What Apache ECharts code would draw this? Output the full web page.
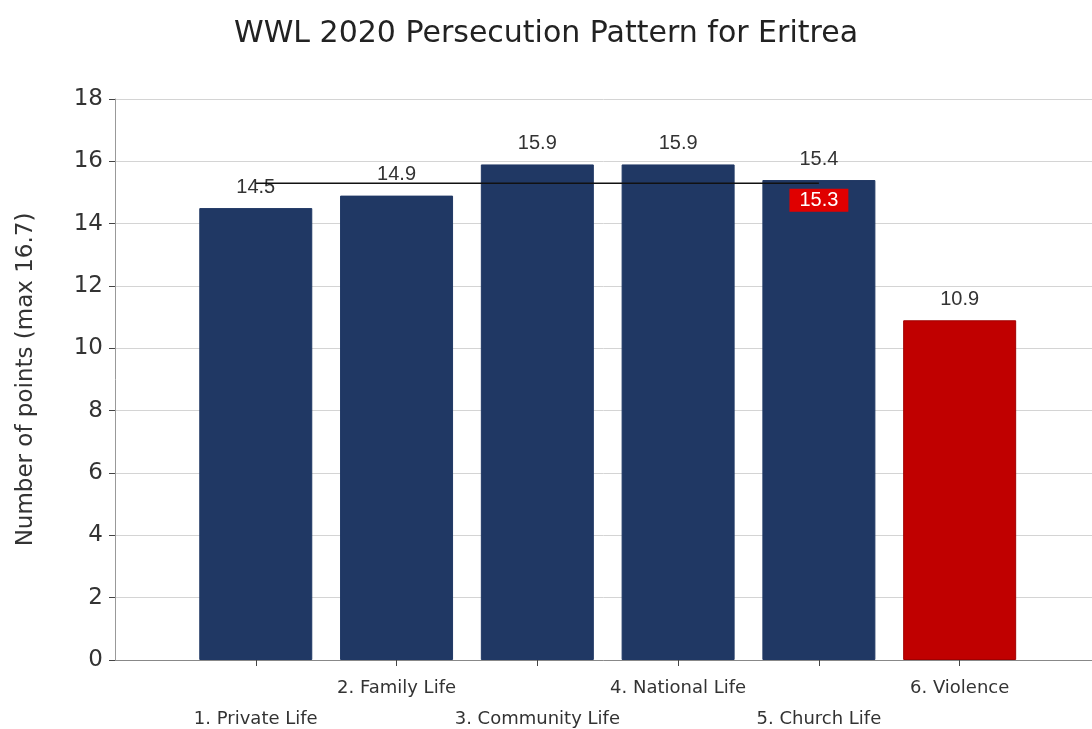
<!DOCTYPE html>
<html>
<head>
<meta charset="utf-8">
<script src="https://cdn.jsdelivr.net/npm/echarts@6/dist/echarts.min.js"></script>
<style>html,body{margin:0;padding:0;background:#fff;}#c{width:1092px;height:729px;}</style>
</head>
<body>
<div id="c"></div>
<script>
var titleText = 'WWL 2020 Persecution Pattern for Eritrea';
var yAxisName = 'Number of points (max 16.7)';
var categories = ['1. Private Life', '2. Family Life', '3. Community Life', '4. National Life', '5. Church Life', '6. Violence'];
var positions = [1, 2, 3, 4, 5, 6];
var values = [14.5, 14.9, 15.9, 15.9, 15.4, 10.9];
var barColors = ['#203864', '#203864', '#203864', '#203864', '#203864', '#c00000'];
var averageValue = 15.3;
var averageFrom = 1;
var averageTo = 5;
var xMax = 6.94;
var yTicks = [0, 2, 4, 6, 8, 10, 12, 14, 16, 18];

var FONT = 'Liberation Sans, Arial, sans-serif';
var WIDE = 'DejaVu Sans, Verdana, sans-serif';
var chart = echarts.init(document.getElementById('c'), null, {renderer: 'canvas'});
var barData = values.map(function (v, i) {
  return {value: [positions[i], v], itemStyle: {color: barColors[i], borderColor: i === 5 ? '#a00000' : barColors[i], borderWidth: 1}};
});
chart.setOption({
  animation: false,
  backgroundColor: '#fff',
  title: {
    text: titleText, left: 'center', top: 14,
    textStyle: {fontFamily: WIDE, fontSize: 30, fontWeight: 'normal', color: '#222'}
  },
  grid: {left: 115, right: 0, top: 99, bottom: 69, outerBoundsMode: 'none', containLabel: false},
  xAxis: {
    type: 'value', min: 0, max: xMax, interval: 1,
    axisLine: {show: true, lineStyle: {color: '#888', width: 1}},
    axisTick: {show: true, length: 6, lineStyle: {color: '#444'},
      customValues: positions},
    splitLine: {show: false},
    axisLabel: {
      customValues: positions,
      fontFamily: WIDE, fontSize: 18, color: '#333', margin: 13, lineHeight: 31,
      formatter: function (v) {
        var idx = positions.indexOf(Math.round(v));
        if (idx < 0) return '';
        return (idx % 2 === 0 ? '\n' : '') + categories[idx];
      }
    }
  },
  yAxis: {
    type: 'value', min: yTicks[0], max: yTicks[yTicks.length - 1], interval: yTicks[1] - yTicks[0],
    name: yAxisName, nameLocation: 'middle', nameGap: 77, nameRotate: 90,
    nameTextStyle: {fontFamily: WIDE, fontSize: 23, color: '#333'},
    axisLine: {show: true, lineStyle: {color: '#999', width: 1}},
    axisTick: {show: true, length: 6, lineStyle: {color: '#444'}},
    splitLine: {show: true, lineStyle: {color: '#d4d4d4', width: 1}},
    axisLabel: {fontFamily: WIDE, fontSize: 23, color: '#333', margin: 12}
  },
  series: [
    {
      type: 'bar', data: barData, barWidth: 113,
      label: {show: true, position: 'top', distance: 11, fontFamily: FONT, fontSize: 20, color: '#333',
        formatter: function (p) { return p.value[1].toFixed(1); }}
    },
    {
      type: 'line', symbol: 'circle', symbolSize: 1, showSymbol: true, z: 5,
      itemStyle: {color: 'rgba(0,0,0,0)'},
      lineStyle: {color: '#111', width: 1.5},
      emphasis: {disabled: true},
      data: [
        {value: [averageFrom, averageValue], label: {show: false}},
        {value: [averageTo, averageValue], label: {
          show: true, position: 'bottom', distance: 5,
          backgroundColor: '#e00000', color: '#fff', padding: [2, 10, 1, 10],
          fontFamily: FONT, fontSize: 20,
          formatter: function () { return averageValue.toFixed(1); }
        }}
      ]
    }
  ]
});
</script>
</body>
</html>
